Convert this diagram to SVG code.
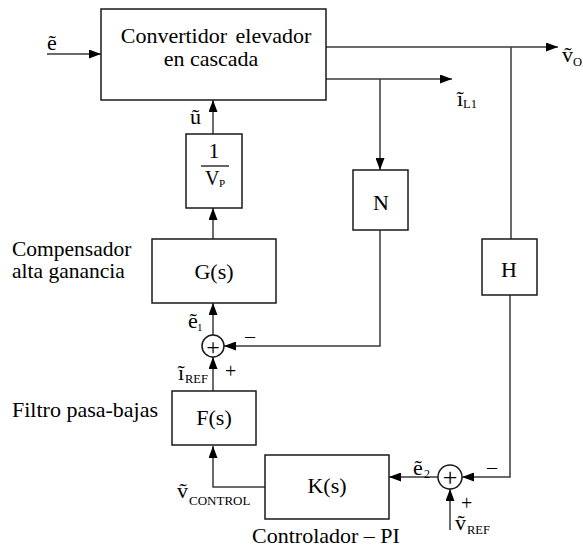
<svg xmlns="http://www.w3.org/2000/svg" width="583" height="550" viewBox="0 0 583 550" font-family="'Liberation Serif', 'DejaVu Serif', serif">
<defs>
<marker id="ah" markerUnits="userSpaceOnUse" markerWidth="12" markerHeight="9" refX="12" refY="4.5" orient="auto">
<path d="M0,0 L12,4.5 L0,9 z" fill="#000"/>
</marker>
<style>
.box{fill:#fff;stroke:#1a1a1a;stroke-width:1.5}
.ln{fill:none;stroke:#3a3a3a;stroke-width:1.5}
.ar{marker-end:url(#ah)}
text{font-family:'Liberation Serif','DejaVu Serif',serif;fill:#000}
.t{font-size:22px}
.m{text-anchor:middle}
.s{font-size:12.5px}
</style>
</defs>
<rect width="583" height="550" fill="#fff"/>
<g id="connectors">
<path class="ln ar" d="M47,54 H101"/>
<path class="ln ar" d="M326,47 H558"/>
<path class="ln ar" d="M326,79 H452"/>
<path class="ln ar" d="M380,79 V170"/>
<path class="ln ar" d="M380,230 V346 H224"/>
<path class="ln" d="M511,47 V239"/>
<path class="ln ar" d="M510,295 V477 H462"/>
<path class="ln ar" d="M438,477 H389"/>
<path class="ln ar" d="M450,530 V489"/>
<path class="ln ar" d="M265,487 H213 V446"/>
<path class="ln ar" d="M213,391 V357"/>
<path class="ln ar" d="M213,335 V303"/>
<path class="ln ar" d="M213,239 V208"/>
<path class="ln ar" d="M213,134 V100"/>
</g>
<g id="converter">
<rect class="box" x="101" y="9" width="225" height="91"/>
<text class="t m" x="216" y="43" word-spacing="3">Convertidor elevador</text>
<text class="t m" x="211" y="66">en cascada</text>
</g>
<g id="gain">
<rect class="box" x="186" y="134" width="56" height="74"/>
<text class="t m" x="214" y="158">1</text>
<line x1="201" y1="166" x2="229" y2="166" stroke="#000" stroke-width="1.2"/>
<text x="205" y="185" font-size="20">V</text>
<text x="219" y="187" font-size="11">P</text>
</g>
<g id="G">
<rect class="box" x="152" y="239" width="124" height="64"/>
<text class="t m" x="214" y="279">G(s)</text>
</g>
<g id="N">
<rect class="box" x="353" y="170" width="55" height="60"/>
<text class="t m" x="381" y="210">N</text>
</g>
<g id="H">
<rect class="box" x="482" y="239" width="55" height="56"/>
<text class="t m" x="509" y="277">H</text>
</g>
<g id="F">
<rect class="box" x="172" y="391" width="84" height="54"/>
<text class="t m" x="214" y="425">F(s)</text>
</g>
<g id="K">
<rect class="box" x="265" y="455" width="124" height="64"/>
<text class="t m" x="327" y="493">K(s)</text>
</g>
<g id="sum1">
<circle cx="213" cy="346" r="11" fill="#fff" stroke="#1a1a1a" stroke-width="1.5"/>
<text class="m" x="213" y="354.5" font-size="24">+</text>
</g>
<g id="sum2">
<circle cx="450" cy="477" r="12" fill="#fff" stroke="#1a1a1a" stroke-width="1.5"/>
<text class="m" x="450" y="486" font-size="26">+</text>
</g>
<g id="labels">
<text class="t" x="47" y="50">ẽ</text>
<text class="t" x="562" y="62">ṽ</text><text class="s" x="573" y="66">O</text>
<text class="t" x="457" y="106">ĩ</text><text class="s" x="463" y="108">L1</text>
<text class="t" x="190" y="124">ũ</text>
<text x="12" y="256" font-size="21.5">Compensador</text>
<text x="12" y="278" font-size="21.5">alta ganancia</text>
<text class="t" x="188" y="328">ẽ</text><text x="197" y="331" font-size="11">1</text>
<text x="245" y="343" font-size="20">–</text>
<text class="t" x="178" y="380">ĩ</text><text class="s" x="185" y="383">REF</text>
<text x="225" y="378" font-size="20">+</text>
<text class="t" x="12" y="417">Filtro pasa-bajas</text>
<text class="t" x="177" y="498">ṽ</text><text x="189" y="505" font-size="13">CONTROL</text>
<text class="t" x="413" y="475">ẽ</text><text x="424" y="478" font-size="12">2</text>
<text x="487" y="474" font-size="20">–</text>
<text x="461" y="510" font-size="20">+</text>
<text class="t" x="455" y="530">ṽ</text><text class="s" x="467" y="534">REF</text>
<text class="t m" x="326" y="543">Controlador – PI</text>
</g>
</svg>
